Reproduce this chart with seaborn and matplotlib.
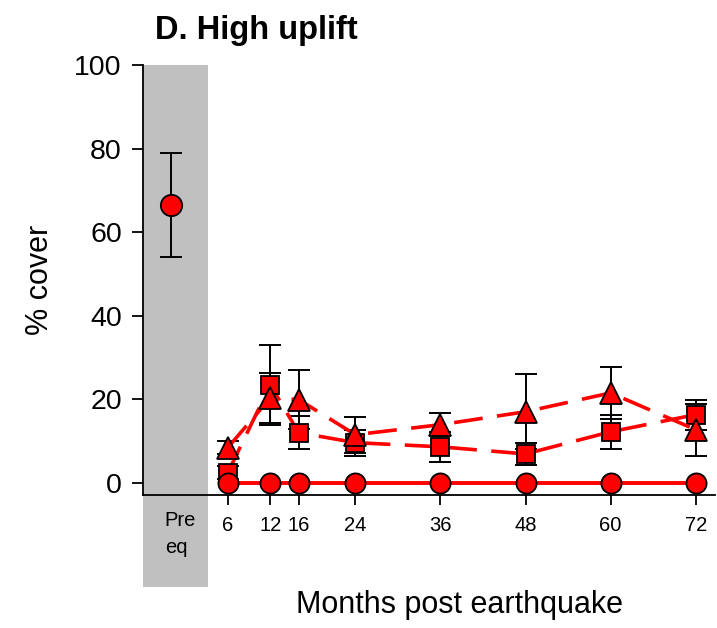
import matplotlib
matplotlib.use("Agg")
import matplotlib.pyplot as plt
import seaborn as sns
import pandas as pd
from matplotlib.patches import Rectangle

# Data
months = [6, 12, 16, 24, 36, 48, 60, 72]
pre_x = -2
pre_val = 66.5
pre_err = 12.5

circle_vals = [0, 0, 0, 0, 0, 0, 0, 0]
square_vals = [2.4, 23.4, 12.0, 9.6, 8.6, 6.9, 12.2, 16.3]
square_err = [1.5, 9.6, 4.0, 3.1, 3.6, 2.7, 4.1, 3.6]
triangle_vals = [8.4, 20.3, 19.9, 11.5, 13.9, 17.0, 21.5, 12.7]
triangle_err = [1.6, 6.0, 7.1, 4.3, 2.8, 9.0, 6.2, 6.2]

yticks = [0, 20, 40, 60, 80, 100]
xtick_labels = ["6", "12", "16", "24", "36", "48", "60", "72"]

sns.set_style("ticks")
plt.rcParams['font.family'] = ['Liberation Sans', 'DejaVu Sans']
plt.rcParams.update({"text.color": "black", "axes.labelcolor": "black",
                     "xtick.color": "black", "ytick.color": "black",
                     "axes.edgecolor": "black"})

fig = plt.figure(figsize=(7.17, 6.28), dpi=100)
ax = fig.add_axes([0.199, 0.212, 0.798, 0.6845])

red = "#ff0000"

# grey pre-earthquake band
ax.add_patch(Rectangle((-6, -24.9), 9.2, 124.9, facecolor="#c0c0c0",
                       edgecolor="none", clip_on=False, zorder=0))

df_c = pd.DataFrame({"month": months, "cover": circle_vals})
df_s = pd.DataFrame({"month": months, "cover": square_vals})
df_t = pd.DataFrame({"month": months, "cover": triangle_vals})

# error bars
for vals, errs in [(square_vals, square_err), (triangle_vals, triangle_err)]:
    ax.errorbar(months, vals, yerr=errs, fmt="none", ecolor="black",
                elinewidth=1.4, capsize=8, capthick=1.4, zorder=2)
ax.errorbar([pre_x], [pre_val], yerr=[pre_err], fmt="none", ecolor="black",
            elinewidth=1.4, capsize=8, capthick=1.4, zorder=2)

# lines
sns.lineplot(data=df_s, x="month", y="cover", ax=ax, color=red, lw=2.6,
             zorder=3, marker="s", markersize=13.5,
             markerfacecolor=red, markeredgecolor="black", markeredgewidth=1.3)
ax.lines[-1].set_dashes([8, 4])
sns.lineplot(data=df_t, x="month", y="cover", ax=ax, color=red, lw=2.6,
             zorder=3, marker="^", markersize=15.5,
             markerfacecolor=red, markeredgecolor="black", markeredgewidth=1.3)
ax.lines[-1].set_dashes([8, 4])
sns.lineplot(data=df_c, x="month", y="cover", ax=ax, color=red, lw=2.8,
             zorder=4, marker="o", markersize=14.5,
             markerfacecolor=red, markeredgecolor="black", markeredgewidth=1.3,
             clip_on=False)
sns.scatterplot(x=[pre_x], y=[pre_val], ax=ax, s=235, color=red,
                edgecolor="black", linewidth=1.3, zorder=5)

ax.set_xlim(-6, 74.7)
ax.set_ylim(-2.9, 100)
ax.set_yticks(yticks)
ax.set_xticks(months)
ax.set_xticklabels(xtick_labels, fontsize=14.5)
ax.tick_params(axis="y", labelsize=20.5, length=8, width=1.3, direction="out", pad=7)
ax.tick_params(axis="x", length=7, width=1.3, direction="out", pad=8)
ax.text(-2.9, -6.8, "Pre\neq", fontsize=14.5, ha="left", va="top",
        linespacing=1.5)

sns.despine(ax=ax)
ax.spines["left"].set_linewidth(1.3)
ax.spines["bottom"].set_linewidth(1.3)
ax.set_xlabel("")
ax.set_ylabel("% cover", fontsize=22, labelpad=14)
fig.text(0.641, 0.036, "Months post earthquake", fontsize=22, ha="center", va="center")
fig.text(0.216, 0.951, "D. High uplift", fontsize=23.5, fontweight="bold",
         ha="left", va="center")

fig.savefig("out.png", dpi=100)
